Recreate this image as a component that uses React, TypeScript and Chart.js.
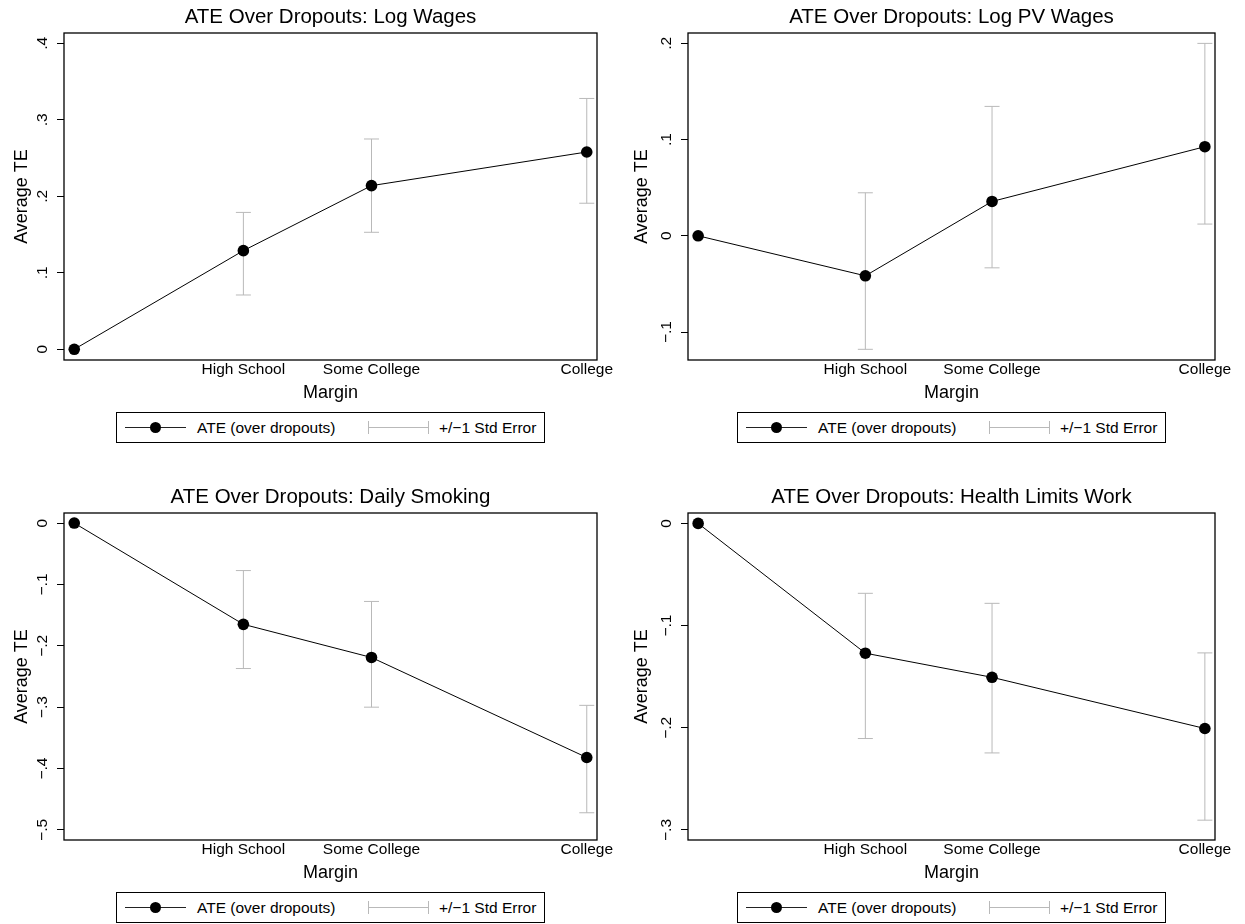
import React, { useEffect, useRef } from "react";
import { Chart, registerables } from "chart.js";

Chart.register(...registerables);

const FONT = '"Liberation Sans", Arial, Helvetica, sans-serif';

// Margins (x positions of schooling levels) and their labels
const marginX = [10, 11.98, 13.48, 16];
const marginLabels = ["", "High School", "Some College", "College"];

// Panel 1: Log Wages
const ateLogWages = [0, 0.129, 0.214, 0.258];
const loLogWages = [null, 0.071, 0.153, 0.191];
const hiLogWages = [null, 0.179, 0.275, 0.328];
const yTicksLogWages = [0, 0.1, 0.2, 0.3, 0.4];
const yLabelsLogWages = ["0", ".1", ".2", ".3", ".4"];

// Panel 2: Log PV Wages
const ateLogPV = [0, -0.0416, 0.0357, 0.0926];
const loLogPV = [null, -0.118, -0.0333, 0.0122];
const hiLogPV = [null, 0.0447, 0.1345, 0.2];
const yTicksLogPV = [-0.1, 0, 0.1, 0.2];
const yLabelsLogPV = ["\u2212.1", "0", ".1", ".2"];

// Panel 3: Daily Smoking
const ateSmoking = [0, -0.165, -0.219, -0.382];
const loSmoking = [null, -0.237, -0.3, -0.472];
const hiSmoking = [null, -0.0774, -0.1277, -0.297];
const yTicksSmoking = [-0.5, -0.4, -0.3, -0.2, -0.1, 0];
const yLabelsSmoking = ["\u2212.5", "\u2212.4", "\u2212.3", "\u2212.2", "\u2212.1", "0"];

// Panel 4: Health Limits Work
const ateHealth = [0, -0.127, -0.1506, -0.2007];
const loHealth = [null, -0.2105, -0.2246, -0.2904];
const hiHealth = [null, -0.0684, -0.0782, -0.1267];
const yTicksHealth = [-0.3, -0.2, -0.1, 0];
const yLabelsHealth = ["\u2212.3", "\u2212.2", "\u2212.1", "0"];

const panels = [
  { title: "ATE Over Dropouts: Log Wages", ate: ateLogWages, lo: loLogWages, hi: hiLogWages, yTicks: yTicksLogWages, yLabels: yLabelsLogWages, yMin: -0.014, yMax: 0.4136, left: 0, top: 0, w: 620, axisW: 64, padRight: 23 },
  { title: "ATE Over Dropouts: Log PV Wages", ate: ateLogPV, lo: loLogPV, hi: hiLogPV, yTicks: yTicksLogPV, yLabels: yLabelsLogPV, yMin: -0.1291, yMax: 0.2108, left: 620, top: 0, w: 625, axisW: 68, padRight: 30 },
  { title: "ATE Over Dropouts: Daily Smoking", ate: ateSmoking, lo: loSmoking, hi: hiSmoking, yTicks: yTicksSmoking, yLabels: yLabelsSmoking, yMin: -0.5164, yMax: 0.0164, left: 0, top: 480, w: 620, axisW: 64, padRight: 23 },
  { title: "ATE Over Dropouts: Health Limits Work", ate: ateHealth, lo: loHealth, hi: hiHealth, yTicks: yTicksHealth, yLabels: yLabelsHealth, yMin: -0.3098, yMax: 0.0102, left: 620, top: 480, w: 625, axisW: 68, padRight: 30 },
];

const CANVAS_H = 405;
const TICK_SIZE = 15.5;
const AXIS_TITLE_SIZE = 18;
const TITLE_SIZE = 20.5;
const ERR_COLOR = "#b9b9b9";

const framePlugin = {
  id: "frame",
  beforeDatasetsDraw(chart: any) {
    const { ctx, chartArea: a } = chart;
    ctx.save();
    ctx.strokeStyle = "#000";
    ctx.lineWidth = 1.3;
    ctx.strokeRect(a.left, a.top, a.right - a.left, a.bottom - a.top);
    ctx.restore();
  },
};

function Panel({ cfg }: { cfg: any }) {
  const ref = useRef<HTMLCanvasElement>(null);

  useEffect(() => {
    if (!ref.current) return;
    const m = document.createElement("canvas").getContext("2d")!;
    m.font = `${TICK_SIZE}px ${FONT}`;
    const widest = Math.max(...cfg.yLabels.map((l: string) => m.measureText(l).width));
    const tickLen = 7;
    // label centre sits 21px left of the plot frame
    const yPad = 21 - tickLen - widest / 2;

    const tickFont = { family: FONT, size: TICK_SIZE };

    const errIdx = marginX.map((_, i) => i).filter((i) => cfg.lo[i] !== null);
    const datasets: any[] = [
      {
        label: "ATE (over dropouts)",
        data: marginX.map((x, i) => ({ x, y: cfg.ate[i] })),
        showLine: true,
        borderColor: "#000",
        borderWidth: 1,
        pointRadius: 5.8,
        pointHoverRadius: 5.8,
        pointBackgroundColor: "#000",
        pointBorderColor: "#000",
        pointBorderWidth: 0,
      },
      ...errIdx.map((i) => ({
        label: "+/\u22121 Std Error",
        data: [
          { x: marginX[i], y: cfg.lo[i] },
          { x: marginX[i], y: cfg.hi[i] },
        ],
        showLine: true,
        borderColor: ERR_COLOR,
        borderWidth: 1,
        pointStyle: "line",
        pointRadius: 7.5,
        pointHoverRadius: 7.5,
        pointBorderColor: ERR_COLOR,
        pointBorderWidth: 1,
      })),
    ];

    const chart = new Chart(ref.current, {
      type: "scatter",
      data: { datasets },
      options: {
        animation: false,
        responsive: false,
        maintainAspectRatio: false,
        events: [],
        layout: { padding: { left: 0, right: cfg.padRight, top: 0, bottom: 0 } },
        plugins: {
          legend: { display: false },
          tooltip: { enabled: false },
          title: {
            display: true,
            text: cfg.title,
            fullSize: false,
            color: "#000",
            font: { family: FONT, size: TITLE_SIZE, weight: "normal", lineHeight: 1.2 },
            padding: { top: 4.7, bottom: 3.7 },
          },
        },
        scales: {
          x: {
            type: "linear",
            min: 9.88,
            max: 16.12,
            grid: { display: false, drawTicks: false },
            border: { display: false },
            afterBuildTicks: (s: any) => {
              s.ticks = marginX.slice(1).map((v) => ({ value: v }));
            },
            ticks: {
              autoSkip: false,
              minRotation: 0,
              maxRotation: 0,
              padding: 0,
              color: "#000",
              font: tickFont,
              callback: (_v: any, i: number) => marginLabels[i + 1],
            },
            title: {
              display: true,
              text: "Margin",
              color: "#000",
              font: { family: FONT, size: AXIS_TITLE_SIZE, lineHeight: 1.2 },
              padding: { top: 0, bottom: 1.2 },
            },
            afterFit: (s: any) => {
              s.height = 45;
              s.paddingLeft = 0;
              s.paddingRight = 0;
            },
          },
          y: {
            type: "linear",
            min: cfg.yMin,
            max: cfg.yMax,
            grid: {
              display: true,
              drawOnChartArea: false,
              drawTicks: true,
              tickLength: tickLen,
              tickColor: "#000",
              color: "#000",
              lineWidth: 1,
            },
            border: { display: false },
            afterBuildTicks: (s: any) => {
              s.ticks = cfg.yTicks.map((v: number) => ({ value: v }));
            },
            ticks: {
              autoSkip: false,
              minRotation: 90,
              maxRotation: 90,
              crossAlign: "center",
              padding: yPad,
              color: "#000",
              font: tickFont,
              callback: (_v: any, i: number) => cfg.yLabels[i],
            },
            title: {
              display: true,
              text: "Average TE",
              color: "#000",
              font: { family: FONT, size: AXIS_TITLE_SIZE, lineHeight: 1.2 },
              padding: { top: 11, bottom: 0 },
            },
            afterFit: (s: any) => {
              s.width = cfg.axisW;
              s.paddingTop = 0;
              s.paddingBottom = 0;
            },
          },
        },
      } as any,
      plugins: [framePlugin],
    });
    return () => chart.destroy();
  }, [cfg]);

  const plotLeft = cfg.left + cfg.axisW;
  const plotRight = cfg.left + cfg.w - cfg.padRight;
  const legendW = 429;
  const legendLeft = Math.round((plotLeft + plotRight) / 2 - legendW / 2);

  return (
    <>
      <canvas
        ref={ref}
        width={cfg.w}
        height={CANVAS_H}
        style={{ position: "absolute", left: cfg.left, top: cfg.top, width: cfg.w, height: CANVAS_H, display: "block" }}
      />
      <div
        style={{
          position: "absolute",
          left: legendLeft,
          top: cfg.top + 412,
          width: legendW,
          height: 31,
          boxSizing: "border-box",
          border: "1px solid #000",
          fontFamily: FONT,
          fontSize: TICK_SIZE,
          color: "#000",
          background: "#fff",
        }}
      >
        <div style={{ position: "absolute", left: 8, top: 14, width: 61, height: 1, background: "#222" }} />
        <div style={{ position: "absolute", left: 32.5, top: 9, width: 11, height: 11, borderRadius: "50%", background: "#000" }} />
        <span style={{ position: "absolute", left: 80, top: 0, lineHeight: "29px", whiteSpace: "nowrap" }}>ATE (over dropouts)</span>
        <div style={{ position: "absolute", left: 251, top: 14, width: 61, height: 1, background: ERR_COLOR }} />
        <div style={{ position: "absolute", left: 251, top: 8, width: 1, height: 13, background: ERR_COLOR }} />
        <div style={{ position: "absolute", left: 311, top: 8, width: 1, height: 13, background: ERR_COLOR }} />
        <span style={{ position: "absolute", left: 322, top: 0, lineHeight: "29px", whiteSpace: "nowrap" }}>+/{"\u2212"}1 Std Error</span>
      </div>
    </>
  );
}

export default function App() {
  return (
    <div style={{ position: "absolute", left: 0, top: 0, width: 1245, height: 924, background: "#fff" }}>
      {panels.map((p, i) => (
        <Panel key={i} cfg={p} />
      ))}
    </div>
  );
}
